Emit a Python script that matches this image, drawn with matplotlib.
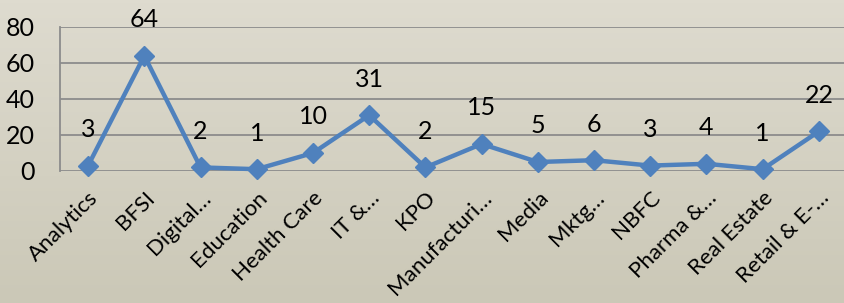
import matplotlib
matplotlib.use("Agg")
import matplotlib.pyplot as plt
import numpy as np

categories = ["Analytics", "BFSI", "Digital…", "Education", "Health Care", "IT &…", "KPO",
              "Manufacturi…", "Media", "Mktg…", "NBFC", "Pharma &…", "Real Estate", "Retail & E-…"]
values = [3, 64, 2, 1, 10, 31, 2, 15, 5, 6, 3, 4, 1, 22]
yticks = [0, 20, 40, 60, 80]

plt.rcParams['font.family'] = ['Lato', 'DejaVu Sans']

W, H = 845, 303
fig = plt.figure(figsize=(W/100, H/100), dpi=100)

# background gradient
bg = fig.add_axes([0, 0, 1, 1], zorder=-10)
top = np.array([222, 219, 207]) / 255
bot = np.array([203, 200, 183]) / 255
t = np.linspace(0, 1, 100)[:, None]
grad = top[None, :] * (1 - t) + bot[None, :] * t
bg.imshow(grad[:, None, :], aspect='auto', extent=[0, 1, 0, 1])
bg.axis('off')

ax = fig.add_axes([60/W, 132/H, 787/W, 144/H])
ax.patch.set_alpha(0)
x = np.arange(len(categories))
ax.plot(x, values, color='#4F81BD', lw=3.2, marker='D', markersize=10,
        markerfacecolor='#4F81BD', markeredgecolor='#4F81BD', zorder=3, clip_on=False)
for xi, v in zip(x, values):
    ax.annotate(str(v), (xi, v), xytext=(0, 26), textcoords='offset points',
                ha='center', va='center', fontsize=18, color='black')

ax.set_xlim(-0.5, len(categories) - 0.5)
ax.set_ylim(0, 80)
ax.set_yticks(yticks)
ax.set_yticklabels([str(v) for v in yticks], fontsize=18)
ax.grid(axis='y', color='#8C8C8C', lw=1.3)
ax.set_axisbelow(True)
for s in ['top', 'right', 'bottom']:
    ax.spines[s].set_visible(False)
ax.spines['left'].set_color('#8C8C8C')
ax.spines['left'].set_linewidth(1.3)
ax.tick_params(axis='y', length=0, pad=18)
ax.tick_params(axis='x', length=0, pad=12)
ax.set_xticks(x)
ax.set_xticklabels(categories, rotation=45, ha='right', rotation_mode='anchor', fontsize=16)

fig.savefig("out.png", dpi=100)
